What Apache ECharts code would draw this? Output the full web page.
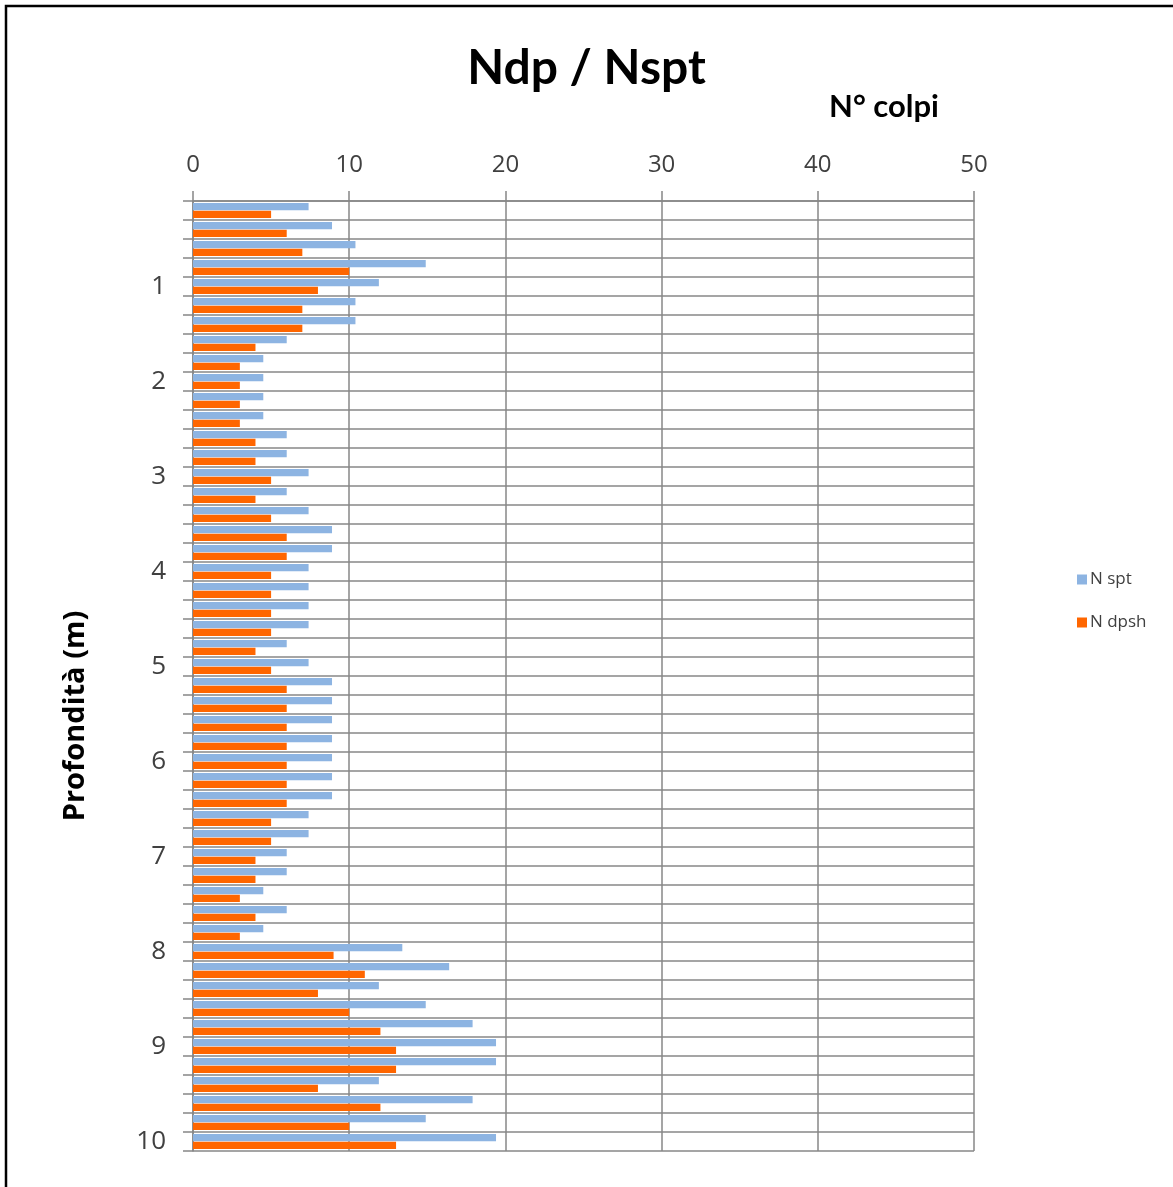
<!DOCTYPE html>
<html>
<head>
<meta charset="utf-8">
<script src="https://cdn.jsdelivr.net/npm/echarts@6/dist/echarts.min.js"></script>
<style>
  html, body { margin: 0; padding: 0; background: #fff; }
  #chart { width: 1173px; height: 1187px; }
</style>
</head>
<body>
<div id="chart"></div>
<script>
// Depth of each reading (m), top to bottom
const depths = [
  '0.2', '0.4', '0.6', '0.8', '1', '1.2', '1.4', '1.6', '1.8', '2',
  '2.2', '2.4', '2.6', '2.8', '3', '3.2', '3.4', '3.6', '3.8', '4',
  '4.2', '4.4', '4.6', '4.8', '5', '5.2', '5.4', '5.6', '5.8', '6',
  '6.2', '6.4', '6.6', '6.8', '7', '7.2', '7.4', '7.6', '7.8', '8',
  '8.2', '8.4', '8.6', '8.8', '9', '9.2', '9.4', '9.6', '9.8', '10'
];

// Equivalent SPT blow counts
const nSpt = [
  7.4, 8.9, 10.4, 14.9, 11.9, 10.4, 10.4, 6.0, 4.5, 4.5,
  4.5, 4.5, 6.0, 6.0, 7.4, 6.0, 7.4, 8.9, 8.9, 7.4,
  7.4, 7.4, 7.4, 6.0, 7.4, 8.9, 8.9, 8.9, 8.9, 8.9,
  8.9, 8.9, 7.4, 7.4, 6.0, 6.0, 4.5, 6.0, 4.5, 13.4,
  16.4, 11.9, 14.9, 17.9, 19.4, 19.4, 11.9, 17.9, 14.9, 19.4
];

// DPSH blow counts
const nDpsh = [
  5, 6, 7, 10, 8, 7, 7, 4, 3, 3,
  3, 3, 4, 4, 5, 4, 5, 6, 6, 5,
  5, 5, 5, 4, 5, 6, 6, 6, 6, 6,
  6, 6, 5, 5, 4, 4, 3, 4, 3, 9,
  11, 8, 10, 12, 13, 13, 8, 12, 10, 13
];

const seriesNames = ['N spt', 'N dpsh'];
const seriesColors = ['#8DB4E2', '#FF6600'];

const gridColor = '#878787';
const textColor = '#404040';

const chart = echarts.init(document.getElementById('chart'), null, { renderer: 'canvas' });

chart.setOption({
  backgroundColor: '#ffffff',
  animation: false,
  title: {
    text: 'Ndp / Nspt',
    left: 'center',
    top: 40,
    textStyle: {
      fontFamily: 'Lato',
      fontWeight: 'bold',
      fontSize: 48,
      color: '#000'
    }
  },
  graphic: [
    {
      type: 'rect',
      shape: { x: 6, y: 6, width: 1300, height: 1300 },
      style: { fill: 'none', stroke: '#000', lineWidth: 2.5 },
      silent: true
    },
    {
      type: 'text',
      left: 829,
      top: 91,
      style: {
        text: 'N° colpi',
        fontFamily: 'Lato',
        fontWeight: 'bold',
        fontSize: 31,
        fill: '#000'
      }
    },
    {
      // depth axis title, rotated to read bottom-to-top
      type: 'text',
      x: 76,
      y: 716,
      rotation: Math.PI / 2,
      style: {
        text: 'Profondità (m)',
        fontFamily: 'Open Sans',
        fontWeight: 'bold',
        fontSize: 29,
        fill: '#000',
        align: 'center',
        verticalAlign: 'middle'
      }
    }
  ],
  legend: {
    orient: 'vertical',
    left: 1072,
    top: 566,
    itemWidth: 10,
    itemHeight: 10,
    itemGap: 26,
    icon: 'rect',
    data: seriesNames,
    textStyle: {
      fontFamily: 'Open Sans',
      fontSize: 17,
      color: textColor,
      padding: [0, 0, 0, -2]
    }
  },
  grid: {
    left: 193,
    right: 199,
    top: 201,
    bottom: 36,
    containLabel: false
  },
  xAxis: {
    type: 'value',
    position: 'top',
    min: 0,
    max: 50,
    interval: 10,
    axisLine: { show: true, lineStyle: { color: gridColor, width: 1.5 } },
    axisTick: { show: true, length: 10, lineStyle: { color: gridColor, width: 1.5 } },
    splitLine: { show: true, lineStyle: { color: gridColor, width: 1.5 } },
    axisLabel: {
      margin: 24,
      fontFamily: 'Open Sans',
      fontSize: 24,
      color: textColor
    }
  },
  yAxis: {
    type: 'category',
    data: depths,
    inverse: true,
    axisLine: { show: true, lineStyle: { color: gridColor, width: 1.5 } },
    axisTick: { show: true, interval: 0, length: 10, lineStyle: { color: gridColor, width: 1.5 } },
    splitLine: { show: true, interval: 0, lineStyle: { color: gridColor, width: 1.5 } },
    axisLabel: {
      interval: (i, v) => Number.isInteger(Number(v)),
      margin: 27,
      fontFamily: 'Open Sans',
      fontSize: 26,
      color: textColor
    }
  },
  series: [
    {
      name: seriesNames[0],
      type: 'bar',
      data: nSpt,
      itemStyle: { color: seriesColors[0] },
      barGap: '4%',
      barCategoryGap: '22%'
    },
    {
      name: seriesNames[1],
      type: 'bar',
      data: nDpsh,
      itemStyle: { color: seriesColors[1] },
      barGap: '4%',
      barCategoryGap: '22%'
    }
  ]
});
</script>
</body>
</html>
